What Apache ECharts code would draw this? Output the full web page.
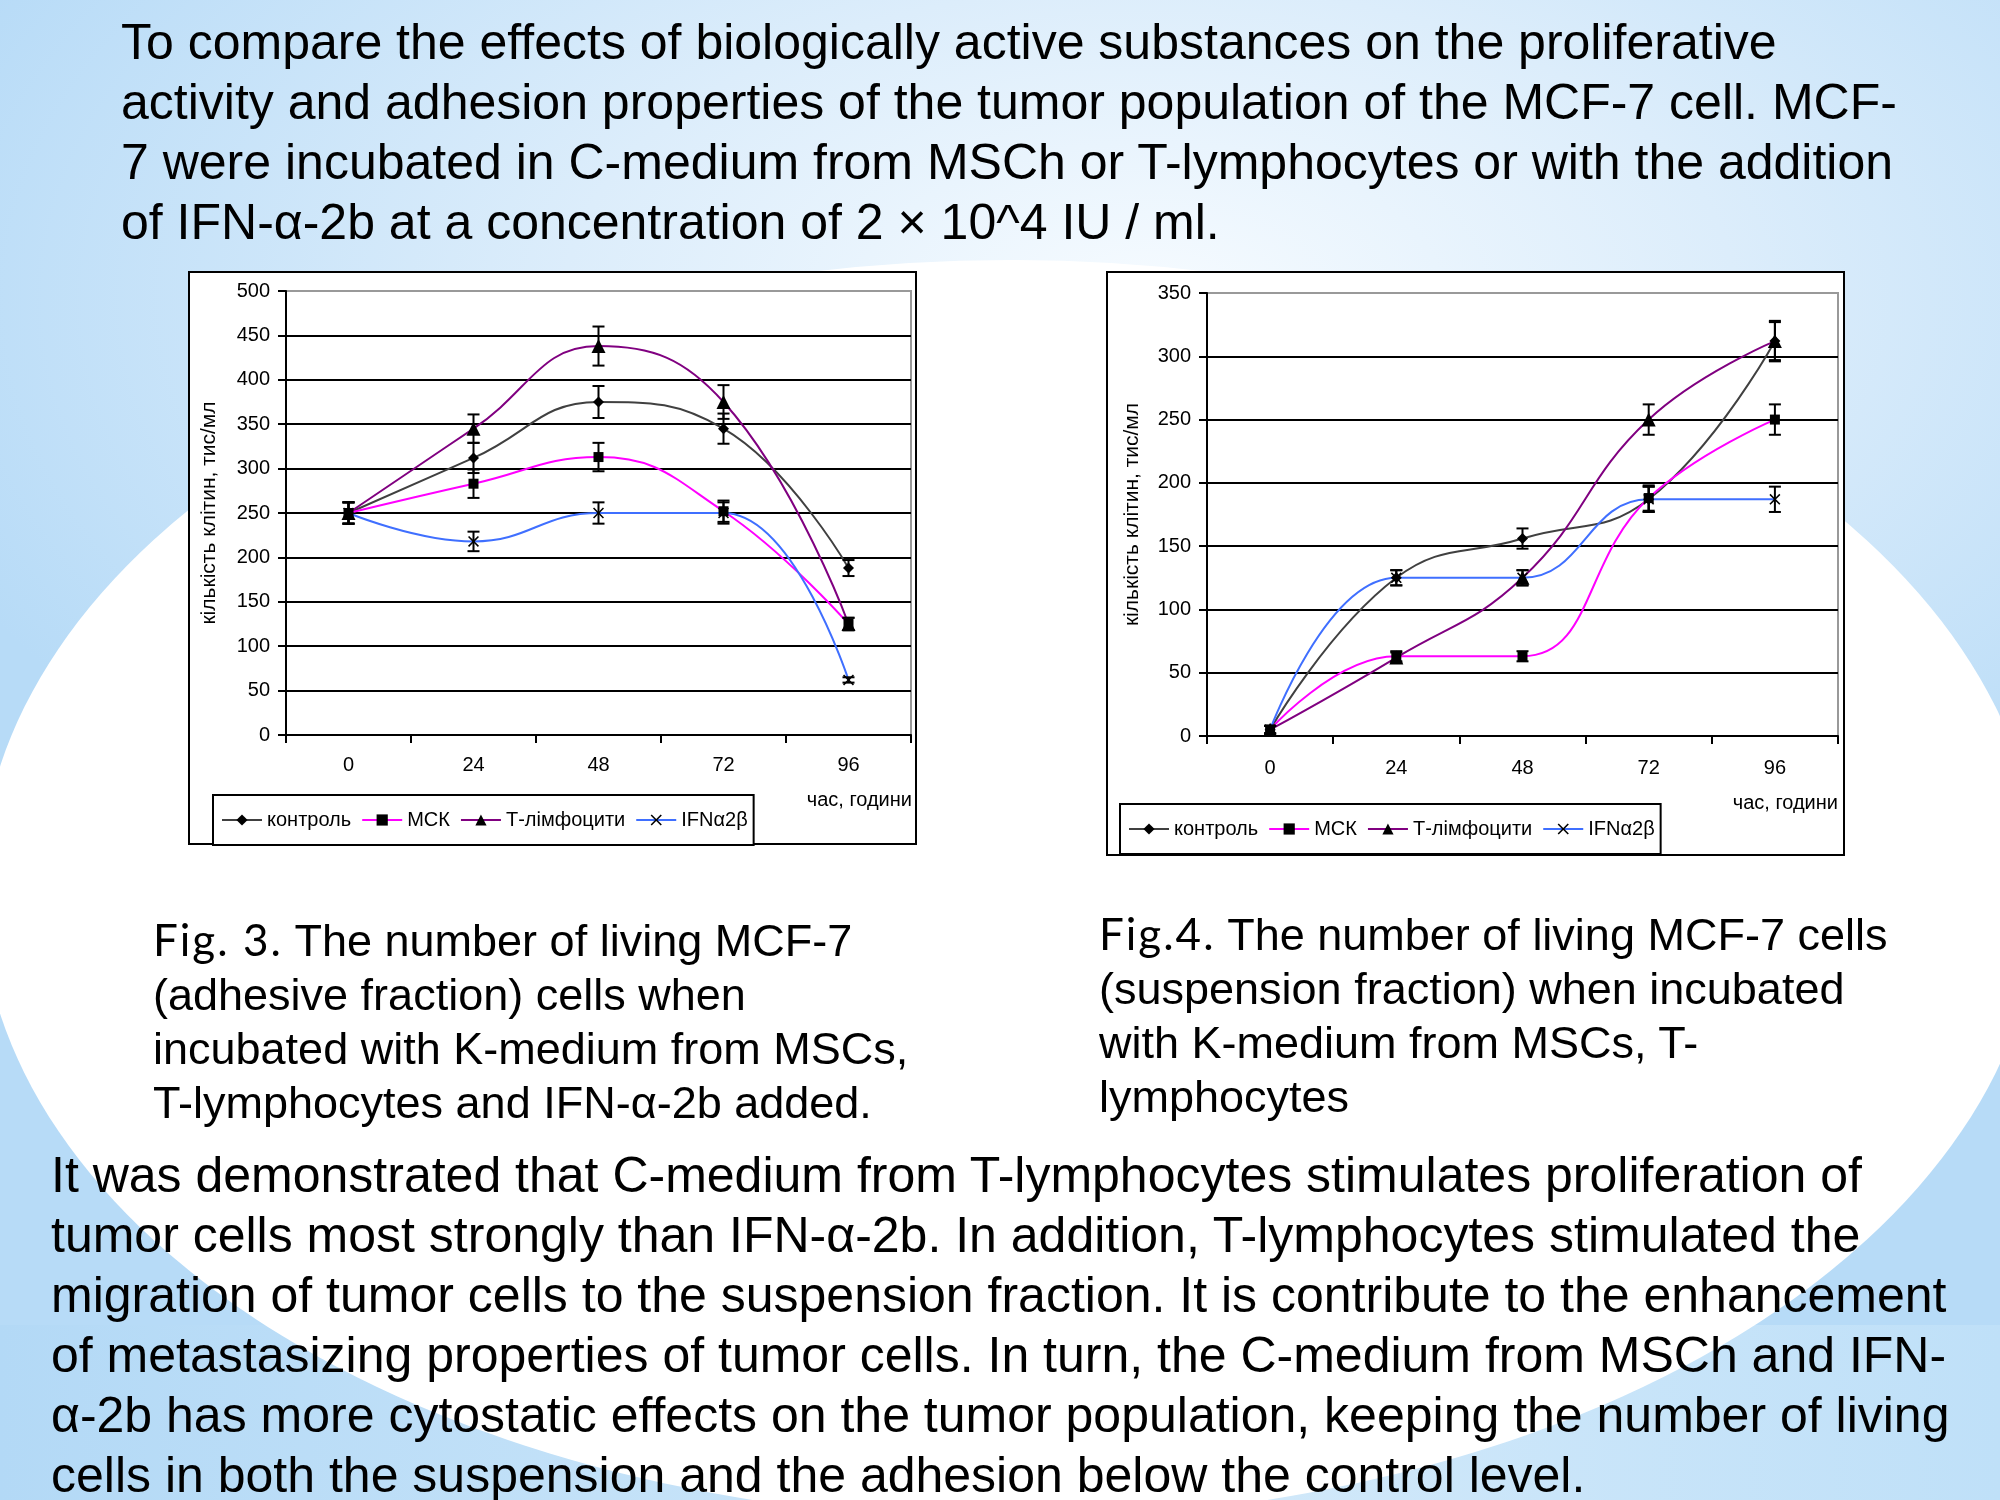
<!DOCTYPE html>
<html>
<head>
<meta charset="utf-8">
<script src="https://cdn.jsdelivr.net/npm/echarts@6/dist/echarts.min.js"></script>
<style>
  html, body { margin: 0; padding: 0; }
  body {
    width: 2000px; height: 1500px; overflow: hidden; position: relative;
    background: radial-gradient(ellipse 1300px 700px at 1150px 300px, #f6fbff 0%, #dcedfb 45%, #b7dbf7 100%);
    font-family: "Liberation Sans", Arial, sans-serif;
  }
  #band { position: absolute; left: 0; top: 1325px; width: 2000px; height: 175px;
    background: linear-gradient(to right, #b3d9f6, #d2e9fa 60%, #bfe0f8); }
  #oval { position: absolute; left: -20px; top: 260px; width: 2060px; height: 1260px;
    border-radius: 50%; background: #fff; }
  #main { position: absolute; left: 0; top: 0; width: 2000px; height: 1500px; }
  .txt { position: absolute; white-space: pre; color: #000; }
  .big { font-size: 50px; line-height: 60px; }
  .cap { font-size: 45px; line-height: 54px; }
  .fig { font-family: Lato, "Open Sans", sans-serif; font-size: 44px; letter-spacing: 2px; }
</style>
</head>
<body>
<div id="band"></div>
<div id="oval"></div>
<div id="main"></div>

<div class="txt big" style="left:121px; top:12px;">To compare the effects of biologically active substances on the proliferative
activity and adhesion properties of the tumor population of the MCF-7 cell. MCF-
7 were incubated in C-medium from MSCh or T-lymphocytes or with the addition
of IFN-α-2b at a concentration of 2 × 10^4 IU / ml.</div>

<div class="txt cap" style="left:153px; top:912px;"><span class="fig">Fig. 3.</span> The number of living MCF-7
(adhesive fraction) cells when
incubated with K-medium from MSCs,
T-lymphocytes and IFN-α-2b added.</div>

<div class="txt cap" style="left:1099px; top:906px;"><span class="fig">Fig.4.</span> The number of living MCF-7 cells
(suspension fraction) when incubated
with K-medium from MSCs, T-
lymphocytes</div>

<div class="txt big" style="left:51px; top:1145px;">It was demonstrated that C-medium from T-lymphocytes stimulates proliferation of
tumor cells most strongly than IFN-α-2b. In addition, T-lymphocytes stimulated the
migration of tumor cells to the suspension fraction. It is contribute to the enhancement
of metastasizing properties of tumor cells. In turn, the C-medium from MSCh and IFN-
α-2b has more cytostatic effects on the tumor population, keeping the number of living
cells in both the suspension and the adhesion below the control level.</div>

<script>
// categories and names
const hours = ['0', '24', '48', '72', '96']
const names = ['контроль', 'МСК', 'Т-лімфоцити', 'IFNα2β']
const colors = ['#404040', '#ff00ff', '#800080', '#3f6fff']
const yName = 'кількість клітин, тис/мл'
const xName = 'час, години'

// Fig. 3 – adhesive fraction
const adhControl = [250, 312, 375, 345, 188]
const adhMsc = [250, 283, 313, 252, 125]
const adhTly = [250, 345, 438, 375, 125]
const adhIfn = [250, 218, 250, 250, 62]
const adhControlErr = [12, 17, 18, 17, 9]
const adhMscErr = [12, 16, 16, 12, 7]
const adhTlyErr = [12, 16, 22, 19, 7]
const adhIfnErr = [12, 11, 12, 12, 3]

// Fig. 4 – suspension fraction
const susControl = [5, 125, 156, 187, 312]
const susMsc = [5, 63, 63, 188, 250]
const susTly = [5, 62, 125, 250, 312]
const susIfn = [5, 125, 125, 187, 187]
const susControlErr = [3, 6, 8, 10, 15]
const susMscErr = [3, 4, 4, 10, 12]
const susTlyErr = [3, 4, 6, 12, 16]
const susIfnErr = [3, 6, 6, 10, 10]

const crossPath = 'path://M0,1L1,0L5,4L9,0L10,1L6,5L10,9L9,10L5,6L1,10L0,9L4,5Z'
const symbols = ['diamond', 'rect', 'triangle', crossPath]
const symbolSizes = [11, 10, 14, 11]

const font = 'Liberation Sans'

const lineSeries = (axis, values) => values.map((vals, i) => ({
  name: names[i],
  type: 'line',
  xAxisIndex: axis,
  yAxisIndex: axis,
  data: vals,
  smooth: 0.45,
  symbol: symbols[i],
  symbolSize: symbolSizes[i],
  itemStyle: { color: '#000' },
  lineStyle: { color: colors[i], width: 2 },
  z: 4
}))

const errSeries = (axis, values, errs) => values.map((vals, i) => ({
  name: 'err' + axis + i,
  type: 'custom',
  xAxisIndex: axis,
  yAxisIndex: axis,
  silent: true,
  z: 5,
  encode: { x: 0, y: [1, 2] },
  data: vals.map((v, k) => [k, v - errs[i][k], v + errs[i][k]]),
  renderItem: (params, api) => {
    const lo = api.coord([api.value(0), api.value(1)])
    const hi = api.coord([api.value(0), api.value(2)])
    const w = 6
    const style = { stroke: '#000', lineWidth: 2 }
    return {
      type: 'group',
      children: [
        { type: 'line', shape: { x1: lo[0], y1: lo[1], x2: hi[0], y2: hi[1] }, style },
        { type: 'line', shape: { x1: lo[0] - w, y1: lo[1], x2: lo[0] + w, y2: lo[1] }, style },
        { type: 'line', shape: { x1: hi[0] - w, y1: hi[1], x2: hi[0] + w, y2: hi[1] }, style }
      ]
    }
  }
}))

const splitColors = (n) => {
  const arr = []
  for (let i = 0; i < n; i++) arr.push(i === n - 1 ? '#999' : '#000')
  return arr
}

const xAxisOf = (grid, margin) => ({
  type: 'category',
  gridIndex: grid,
  data: hours,
  boundaryGap: true,
  axisLine: { lineStyle: { color: '#000', width: 2 } },
  axisTick: { show: true, length: 8, lineStyle: { color: '#000', width: 2 } },
  axisLabel: { color: '#000', fontSize: 20, fontFamily: font, margin }
})

const yAxisOf = (grid, max, gap) => ({
  type: 'value',
  gridIndex: grid,
  min: 0,
  max,
  interval: 50,
  name: yName,
  nameLocation: 'middle',
  nameGap: gap,
  nameRotate: 90,
  nameTextStyle: { color: '#000', fontSize: 21, fontFamily: font },
  axisLine: { show: true, lineStyle: { color: '#000', width: 2 } },
  axisTick: { show: true, length: 8, lineStyle: { color: '#000', width: 2 } },
  axisLabel: { color: '#000', fontSize: 20, fontFamily: font, margin: 16 },
  splitLine: { show: true, lineStyle: { color: splitColors(max / 50 + 1), width: 2 } }
})

const legendOf = (left, top) => ({
  data: names,
  left,
  top,
  orient: 'horizontal',
  backgroundColor: '#fff',
  borderColor: '#000',
  borderWidth: 2,
  borderRadius: 0,
  padding: [15, 6, 15, 8],
  itemWidth: 40,
  itemHeight: 14,
  itemGap: 10,
  selectedMode: false,
  textStyle: { color: '#000', fontSize: 20, fontFamily: font }
})

const chart = echarts.init(document.getElementById('main'))

const option = {
  animation: false,
  backgroundColor: 'transparent',
  graphic: [
    { type: 'rect', z: -10, shape: { x: 189, y: 272, width: 727, height: 572 },
      style: { fill: '#fff', stroke: '#000', lineWidth: 2 } },
    { type: 'rect', z: -10, shape: { x: 1107, y: 272, width: 737, height: 583 },
      style: { fill: '#fff', stroke: '#000', lineWidth: 2 } },
    { type: 'text', right: 2000 - 912, top: 790,
      style: { text: xName, fill: '#000', font: '20px "Liberation Sans"' } },
    { type: 'text', right: 2000 - 1838, top: 793,
      style: { text: xName, fill: '#000', font: '20px "Liberation Sans"' } }
  ],
  grid: [
    { left: 286, top: 291, width: 625, height: 444, show: true, borderColor: '#999', borderWidth: 2 },
    { left: 1207, top: 293, width: 631, height: 443, show: true, borderColor: '#999', borderWidth: 2 }
  ],
  legend: [legendOf(213, 795), legendOf(1120, 804)],
  xAxis: [xAxisOf(0, 20), xAxisOf(1, 22)],
  yAxis: [yAxisOf(0, 500, 66), yAxisOf(1, 350, 64)],
  series: [
    ...lineSeries(0, [adhControl, adhMsc, adhTly, adhIfn]),
    ...lineSeries(1, [susControl, susMsc, susTly, susIfn]),
    ...errSeries(0, [adhControl, adhMsc, adhTly, adhIfn], [adhControlErr, adhMscErr, adhTlyErr, adhIfnErr]),
    ...errSeries(1, [susControl, susMsc, susTly, susIfn], [susControlErr, susMscErr, susTlyErr, susIfnErr])
  ]
}

chart.setOption(option)
</script>
</body>
</html>
